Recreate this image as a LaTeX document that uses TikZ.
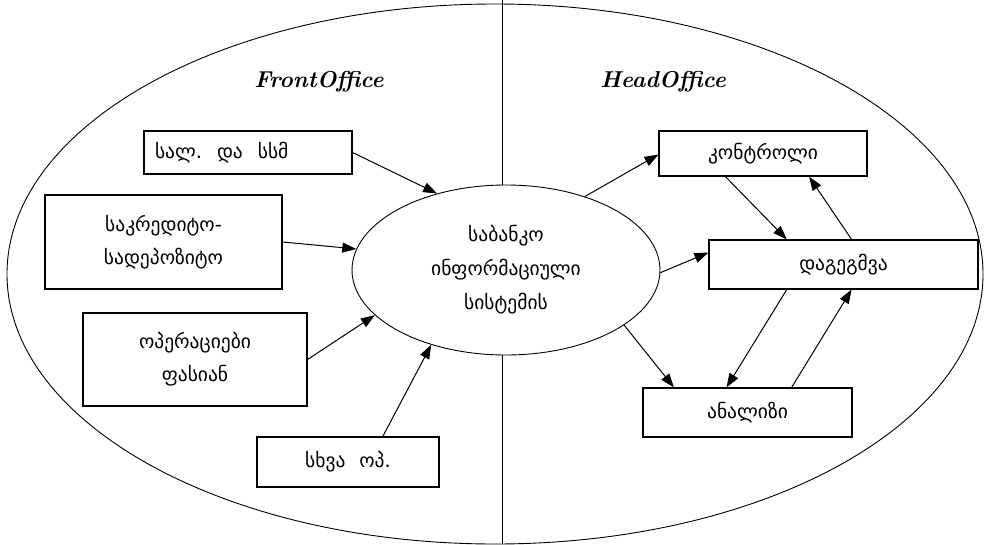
\documentclass[tikz,border=0pt]{standalone}
\usepackage{fontspec}
\newfontfamily\geo{DejaVu Sans}
\usetikzlibrary{calc,shapes.geometric,arrows.meta}
\begin{document}
\begin{tikzpicture}[x=1pt,y=-1pt,
  box/.style={draw,line width=1.1pt,rectangle,inner sep=0pt,font=\geo\fontsize{19.5}{33}\selectfont,align=center},
  oval/.style={draw,line width=0.9pt,ellipse,inner sep=0pt,font=\geo\fontsize{19.5}{34}\selectfont,align=center},
  arr/.style={-{Triangle[length=14pt,width=10pt]},line width=1pt},
  titletext/.style={font=\fontsize{23}{26}\selectfont\bfseries\itshape}]
\useasboundingbox (0,0) rectangle (984,544);
% outer ellipse
\draw[line width=0.9pt] (495,274) ellipse [x radius=488pt, y radius=270pt];
% titles
\node[titletext] (fo) at (319,82) {FrontOffice};
\node[titletext] (ho) at (663,82) {HeadOffice};
% central ellipse
\node[oval,minimum width=308pt,minimum height=170pt] (c) at (506,270) {საბანკო\\ინფორმაციული\\სისტემის};
% divider
\coordinate (vt) at (502,0);
\coordinate (vb) at (502,544);
\draw[line width=1pt] (vt) -- (vt |- c.north);
\draw[line width=1pt] (vt |- c.south) -- (vb);
% left boxes
\node[box,minimum width=208pt,minimum height=43pt,text width=186pt,align=left] (b1) at (248,152.5) {სალ.\hspace{15pt}და\hspace{15pt}სსმ};
\node[box,minimum width=237pt,minimum height=94pt] (b2) at (163.5,242) {საკრედიტო-\\სადეპოზიტო};
\node[box,minimum width=224pt,minimum height=93pt] (b3) at (195,359.5) {ოპერაციები\\ფასიან};
\node[box,minimum width=182pt,minimum height=50pt] (b4) at (348,462) {სხვა\hspace{14pt}ოპ.};
% right boxes
\node[box,minimum width=208pt,minimum height=45pt] (k) at (763,153.5) {კონტროლი};
\node[box,minimum width=269pt,minimum height=49pt] (d) at (843.5,264.5) {დაგეგმვა};
\node[box,minimum width=209pt,minimum height=49pt] (a) at (747.5,412.5) {ანალიზი};
% arrows left
\draw[arr] (b1.east) -- (c.132.6);
\draw[arr] (b2.east) -- (c.172.6);
\draw[arr] (b3.east) -- (c.199.7);
\draw[arr] ($(b4.north west)!0.69!(b4.north east)$) -- (c.225);
% arrows right
\draw[arr] (c.43.5) -- ($(k.west)+(0,1)$);
\draw[arr] (c.359) -- ($(d.west)+(0,-12)$);
\draw[arr] (c.335) -- ($(a.north west)!0.15!(a.north east)$);
\draw[arr] ($(k.south west)!0.32!(k.south east)$) -- ($(d.north west)!0.29!(d.north east)$);
\draw[arr] ($(d.north west)!0.53!(d.north east)$) -- ($(k.south west)!0.72!(k.south east)$);
\draw[arr] ($(d.south west)!0.29!(d.south east)$) -- ($(a.north west)!0.40!(a.north east)$);
\draw[arr] ($(a.north west)!0.71!(a.north east)$) -- ($(d.south west)!0.53!(d.south east)$);
\end{tikzpicture}
\end{document}
